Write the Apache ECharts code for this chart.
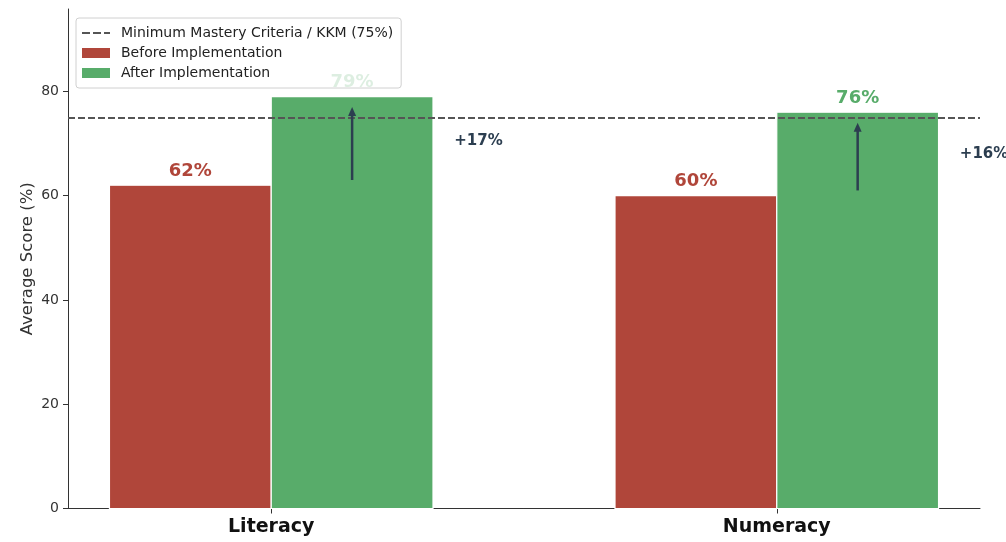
<!DOCTYPE html>
<html>
<head>
<meta charset="utf-8">
<script src="https://cdn.jsdelivr.net/npm/echarts@6/dist/echarts.min.js"></script>
<style>
  html, body { margin: 0; padding: 0; background: #ffffff; }
  #chart { width: 1006px; height: 542px; }
</style>
</head>
<body>
<div id="chart"></div>
<script>
// Average scores before/after implementation, per skill area
const categories = ['Literacy', 'Numeracy'];
const beforeScores = [62, 60];
const afterScores = [79, 76];
const kkmThreshold = 75;
const yTickValues = [0, 20, 40, 60, 80];

const seriesNames = {
  kkm: 'Minimum Mastery Criteria / KKM (75%)',
  before: 'Before Implementation',
  after: 'After Implementation'
};

const FONT = 'DejaVu Sans';
const RED = '#b0463a';
const GREEN = '#58ac6a';
const ARROW = '#2c3e50';
const KKM_COLOR = '#555555';
const BAR_W = 0.32;           // bar width in category units
const X_MIN = -0.402, X_MAX = 1.402;
// dashed-line legend key
const DASH_ICON = 'path://M0,0h8v2h-8z M11,0h8v2h-8z M22,0h6v2h-6z';

function barRenderer(side, color) {
  return function (params, api) {
    const idx = api.value(0);
    const v = api.value(1);
    const x0 = side < 0 ? idx - BAR_W : idx;
    const pTop = api.coord([x0, v]);
    const pBot = api.coord([x0 + BAR_W, 0]);
    const labelPos = api.coord([x0 + BAR_W / 2, v + 1]);
    return {
      type: 'group',
      children: [
        {
          type: 'rect',
          shape: { x: pTop[0], y: pTop[1], width: pBot[0] - pTop[0], height: pBot[1] - pTop[1] },
          style: { fill: color, stroke: '#ffffff', lineWidth: 1.2 }
        },
        {
          type: 'text',
          x: labelPos[0], y: labelPos[1],
          style: {
            text: v + '%', fill: color, font: 'bold 18px "' + FONT + '"',
            align: 'center', verticalAlign: 'bottom'
          }
        }
      ]
    };
  };
}

function arrowRenderer(params, api) {
  const idx = api.value(0);
  const b = api.value(1);
  const a = api.value(2);
  const x = idx + BAR_W / 2;
  const p0 = api.coord([x, b + 1]);
  const p1 = api.coord([x, a - 2]);
  const head = 9, half = 4;
  const txt = api.coord([x + 0.25, (a + b) / 2]);
  return {
    type: 'group',
    children: [
      {
        type: 'line',
        shape: { x1: p0[0], y1: p0[1], x2: p1[0], y2: p1[1] + head - 1 },
        style: { stroke: ARROW, lineWidth: 2.5 }
      },
      {
        type: 'polygon',
        shape: { points: [[p1[0], p1[1]], [p1[0] - half, p1[1] + head], [p1[0] + half, p1[1] + head]] },
        style: { fill: ARROW }
      },
      {
        type: 'text',
        x: txt[0], y: txt[1],
        style: {
          text: '+' + (a - b) + '%', fill: ARROW, font: 'bold 15px "' + FONT + '"',
          align: 'center', verticalAlign: 'middle'
        }
      }
    ]
  };
}

const chart = echarts.init(document.getElementById('chart'), null, { renderer: 'canvas' });

chart.setOption({
  animation: false,
  backgroundColor: '#ffffff',
  textStyle: { fontFamily: FONT },
  grid: { left: 68, right: 26, top: 9, bottom: 33.5, containLabel: false },
  legend: {
    orient: 'vertical',
    left: 76, top: 18,
    padding: [8, 8, 8, 6],
    itemGap: 6,
    itemWidth: 28, itemHeight: 10,
    backgroundColor: 'rgba(255,255,255,0.8)',
    borderColor: '#d0d0d0', borderWidth: 1, borderRadius: 3,
    z: 10,
    textStyle: { fontFamily: FONT, fontSize: 14, color: '#222', padding: [0, 0, 0, 6] },
    data: [
      { name: seriesNames.kkm, icon: DASH_ICON, itemStyle: { color: KKM_COLOR } },
      { name: seriesNames.before, icon: 'rect' },
      { name: seriesNames.after, icon: 'rect' }
    ]
  },
  xAxis: {
    type: 'value',
    min: X_MIN, max: X_MAX,
    splitLine: { show: false },
    axisLine: { show: true, onZero: false, lineStyle: { color: '#333', width: 1 } },
    axisTick: { show: true, customValues: categories.map((c, i) => i), length: 5, lineStyle: { color: '#333' } },
    axisLabel: {
      customValues: categories.map((c, i) => i),
      formatter: v => categories[Math.round(v)] || '',
      fontFamily: FONT, fontSize: 19, fontWeight: 'bold', color: '#111', margin: 9
    }
  },
  yAxis: {
    type: 'value',
    min: 0, max: 95.8,
    name: 'Average Score (%)',
    nameLocation: 'middle',
    nameGap: 32,
    nameMoveOverlap: false,
    nameTextStyle: { fontFamily: FONT, fontSize: 16.5, color: '#333' },
    splitLine: { show: false },
    axisLine: { show: true, onZero: false, lineStyle: { color: '#333', width: 1 } },
    axisTick: { show: true, customValues: yTickValues, length: 5, lineStyle: { color: '#333' } },
    axisLabel: { customValues: yTickValues, fontFamily: FONT, fontSize: 14, color: '#333', margin: 9 }
  },
  series: [
    {
      name: seriesNames.kkm,
      type: 'line',
      data: [],
      symbol: 'none',
      color: KKM_COLOR,
      lineStyle: { color: KKM_COLOR, type: [7, 3], width: 1.8 },
      markLine: {
        silent: true,
        symbol: ['none', 'none'],
        label: { show: false },
        lineStyle: { color: KKM_COLOR, type: [7, 3], width: 1.8 },
        data: [{ yAxis: kkmThreshold }]
      },
      z: 5
    },
    {
      name: seriesNames.before,
      type: 'custom',
      color: RED,
      renderItem: barRenderer(-1, RED),
      data: categories.map((c, i) => [i, beforeScores[i]]),
      z: 2
    },
    {
      name: seriesNames.after,
      type: 'custom',
      color: GREEN,
      renderItem: barRenderer(1, GREEN),
      data: categories.map((c, i) => [i, afterScores[i]]),
      z: 2
    },
    {
      name: 'gain',
      type: 'custom',
      renderItem: arrowRenderer,
      data: categories.map((c, i) => [i, beforeScores[i], afterScores[i]]),
      z: 6
    }
  ]
});
</script>
</body>
</html>
